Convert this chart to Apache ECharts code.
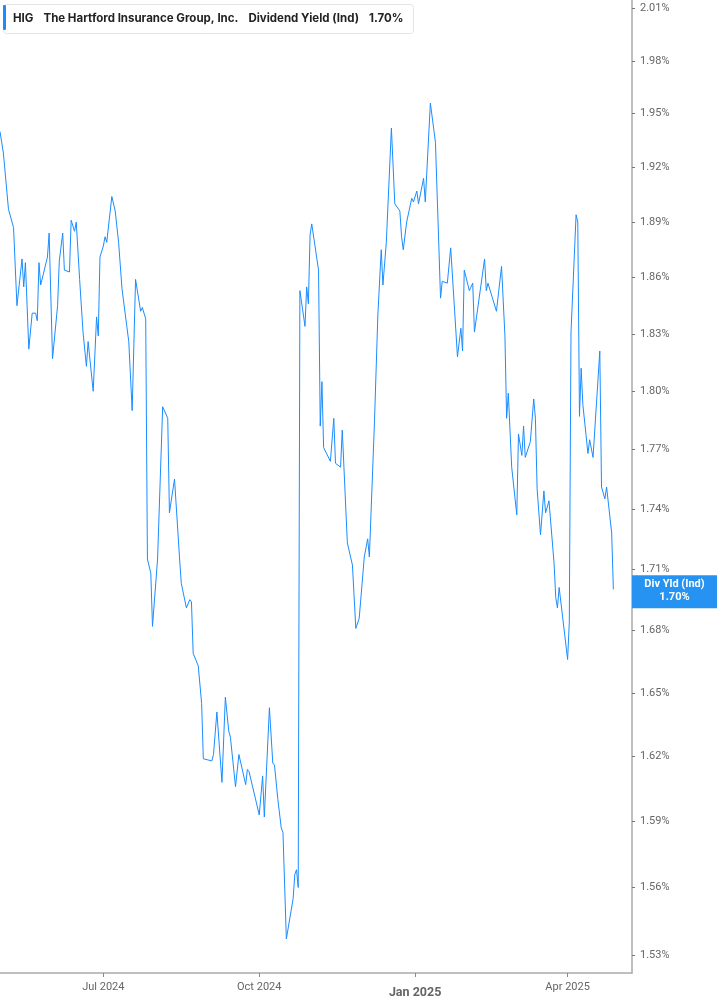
<!DOCTYPE html>
<html>
<head>
<meta charset="utf-8">
<script src="https://cdn.jsdelivr.net/npm/echarts@6/dist/echarts.min.js"></script>
<style>html,body{margin:0;padding:0;background:#fff}#c{width:717px;height:1005px}</style>
</head>
<body>
<div id="c"></div>
<script>
const dates = [
'2024-05-01','2024-05-03','2024-05-06','2024-05-09','2024-05-11','2024-05-14','2024-05-15','2024-05-16','2024-05-18','2024-05-20','2024-05-22','2024-05-23','2024-05-24','2024-05-25','2024-05-29','2024-05-30',
'2024-06-01','2024-06-04','2024-06-05','2024-06-07','2024-06-08','2024-06-11','2024-06-12','2024-06-13','2024-06-14','2024-06-15','2024-06-17','2024-06-19','2024-06-21','2024-06-22','2024-06-25','2024-06-27','2024-06-28','2024-06-29',
'2024-07-01','2024-07-02','2024-07-03','2024-07-06','2024-07-08','2024-07-10','2024-07-12','2024-07-16','2024-07-18','2024-07-19','2024-07-20','2024-07-23','2024-07-24','2024-07-25','2024-07-26','2024-07-27','2024-07-29','2024-07-30',
'2024-08-02','2024-08-05','2024-08-08','2024-08-09','2024-08-12','2024-08-15','2024-08-16','2024-08-19','2024-08-21','2024-08-22','2024-08-23','2024-08-26','2024-08-28','2024-08-29',
'2024-09-03','2024-09-04','2024-09-06','2024-09-09','2024-09-10','2024-09-11','2024-09-13','2024-09-14','2024-09-17','2024-09-19','2024-09-23','2024-09-24','2024-09-25','2024-09-26',
'2024-10-01','2024-10-03','2024-10-04','2024-10-07','2024-10-09','2024-10-10','2024-10-12','2024-10-14','2024-10-15','2024-10-17','2024-10-21','2024-10-22','2024-10-23','2024-10-24','2024-10-25','2024-10-28','2024-10-29','2024-10-30','2024-10-31',
'2024-11-01','2024-11-05','2024-11-06','2024-11-07','2024-11-08','2024-11-12','2024-11-14','2024-11-15','2024-11-18','2024-11-19','2024-11-22','2024-11-25','2024-11-27','2024-11-29',
'2024-12-02','2024-12-04','2024-12-05','2024-12-08','2024-12-10','2024-12-11','2024-12-12','2024-12-13','2024-12-15','2024-12-18','2024-12-19','2024-12-20','2024-12-23','2024-12-24','2024-12-25','2024-12-27','2024-12-30','2024-12-31',
'2025-01-02','2025-01-03','2025-01-06','2025-01-07','2025-01-10','2025-01-13','2025-01-16','2025-01-17','2025-01-20','2025-01-22','2025-01-26','2025-01-28','2025-01-29','2025-01-30',
'2025-02-02','2025-02-04','2025-02-05','2025-02-06','2025-02-11','2025-02-12','2025-02-13','2025-02-18','2025-02-21','2025-02-23','2025-02-24','2025-02-25','2025-02-27',
'2025-03-02','2025-03-03','2025-03-05','2025-03-06','2025-03-07','2025-03-10','2025-03-12','2025-03-13','2025-03-14','2025-03-16','2025-03-18','2025-03-19','2025-03-20','2025-03-21','2025-03-24','2025-03-25','2025-03-26','2025-03-27',
'2025-04-01','2025-04-02','2025-04-03','2025-04-06','2025-04-07','2025-04-08','2025-04-09','2025-04-10','2025-04-13','2025-04-14','2025-04-15','2025-04-16','2025-04-20','2025-04-21','2025-04-23','2025-04-24','2025-04-27','2025-04-28'
];
const yieldValues = [
1.940,1.928,1.897,1.887,1.845,1.870,1.855,1.868,1.822,1.841,1.841,1.837,1.868,1.856,1.871,1.884,
1.817,1.845,1.869,1.884,1.864,1.863,1.891,1.891,1.885,1.890,1.859,1.831,1.813,1.826,1.800,1.839,1.829,1.871,
1.877,1.882,1.879,1.904,1.896,1.879,1.854,1.826,1.790,1.789,1.859,1.842,1.844,1.844,1.838,1.715,1.708,1.682,
1.715,1.792,1.786,1.738,1.755,1.715,1.703,1.691,1.695,1.694,1.669,1.663,1.645,1.619,
1.618,1.621,1.641,1.608,1.608,1.648,1.632,1.629,1.606,1.621,1.607,1.614,1.613,1.613,
1.593,1.611,1.592,1.643,1.617,1.616,1.600,1.587,1.585,1.537,1.555,1.566,1.568,1.560,1.853,1.834,1.855,1.846,1.883,
1.889,1.864,1.782,1.805,1.771,1.764,1.786,1.763,1.761,1.780,1.723,1.712,1.681,1.686,
1.716,1.725,1.716,1.784,1.840,1.840,1.875,1.856,1.879,1.942,1.942,1.900,1.896,1.882,1.875,1.890,1.903,1.901,
1.907,1.900,1.914,1.901,1.956,1.934,1.849,1.858,1.857,1.876,1.818,1.833,1.821,1.864,
1.853,1.857,1.831,1.832,1.870,1.853,1.857,1.842,1.866,1.829,1.786,1.799,1.761,
1.737,1.778,1.767,1.782,1.766,1.774,1.796,1.786,1.750,1.727,1.749,1.738,1.739,1.744,1.713,1.696,1.691,1.701,
1.666,1.684,1.831,1.894,1.890,1.787,1.812,1.793,1.768,1.775,1.775,1.766,1.821,1.751,1.745,1.751,1.728,1.700
];
const yTicks = [1.53,1.56,1.59,1.62,1.65,1.68,1.71,1.74,1.77,1.80,1.83,1.86,1.89,1.92,1.95,1.98,2.01];
const xTicks = ['2024-07-01','2024-10-01','2025-01-01','2025-04-01'];
const xTickLabels = ['Jul 2024','Oct 2024','Jan 2025','Apr 2025'];
const lastValue = 1.70;
const yMin = 1.522, yMax = 2.015;
const xMin = '2024-05-01', xMax = '2025-05-09';

const ts = s => Date.parse(s + 'T00:00:00Z');
const BLUE = '#1a8cff';

const chart = echarts.init(document.getElementById('c'));
chart.setOption({
  animation: false,
  title: {
    left: 3, top: 4,
    text: '{b|HIG}  {b|The Hartford Insurance Group, Inc.}  {n|Dividend Yield (Ind)}  {b|1.70%}',
    backgroundColor: '#fff',
    borderColor: '#e4e4e4', borderWidth: 1, borderRadius: 3,
    padding: [6, 10, 6, 10],
    textStyle: {
      rich: {
        b: { fontFamily: 'Inter', fontSize: 11.5, fontWeight: 'bold', color: '#222' },
        n: { fontFamily: 'Inter', fontSize: 11.5, color: '#222' }
      }
    }
  },
  graphic: [{ type: 'rect', left: 3, top: 5, shape: { width: 3, height: 25, r: 1 }, style: { fill: BLUE }, z: 100 }],
  grid: { left: 0, right: 85, top: 0, bottom: 32 },
  xAxis: {
    type: 'value',
    min: ts(xMin), max: ts(xMax),
    splitLine: { show: false },
    axisLine: { lineStyle: { color: '#aaa', width: 1.5 } },
    axisTick: { show: true, length: 4, lineStyle: { color: '#888' }, customValues: xTicks.map(ts) },
    axisLabel: {
      customValues: xTicks.map(ts),
      margin: 9,
      color: '#666', fontFamily: 'Roboto', fontSize: 11,
      formatter: function (v) {
        let best = 0, bd = Infinity;
        xTicks.forEach((t, i) => { const d = Math.abs(ts(t) - v); if (d < bd) { bd = d; best = i; } });
        const s = xTickLabels[best];
        return s.indexOf('Jan') === 0 ? '{j|' + s + '}' : s;
      },
      rich: { j: { fontFamily: 'Roboto', fontSize: 12.5, fontWeight: 'bold', color: '#666', padding: [4, 0, 0, 0] } }
    }
  },
  yAxis: {
    type: 'value',
    position: 'right',
    min: Math.log(yMin), max: Math.log(yMax),
    splitLine: { show: false },
    axisLine: { show: true, lineStyle: { color: '#aaa', width: 1.5 } },
    axisTick: { show: true, length: 3, lineStyle: { color: '#777' }, customValues: yTicks.map(Math.log) },
    axisLabel: {
      customValues: yTicks.map(Math.log),
      margin: 8,
      color: '#666', fontFamily: 'Roboto', fontSize: 11,
      formatter: v => Math.exp(v).toFixed(2) + '%'
    }
  },
  series: [{
    type: 'line',
    showSymbol: false,
    data: dates.map((d, i) => [ts(d), Math.log(yieldValues[i])]),
    lineStyle: { color: BLUE, width: 1 },
    itemStyle: { color: BLUE },
    markLine: {
      silent: true, symbol: ['none', 'none'],
      lineStyle: { color: 'rgba(0,0,0,0)', width: 0, type: 'solid' },
      data: [{ yAxis: Math.log(lastValue) }],
      label: {
        show: true, position: 'end', distance: 0,
        formatter: '{a|Div Yld (Ind)}\n{a|' + lastValue.toFixed(2) + '%}',
        backgroundColor: '#2693f3',
        padding: [3, 0, 4, 0],
        opacity: 1,
        rich: { a: { width: 85, align: 'center', color: '#fff', fontFamily: 'Roboto', fontSize: 11, fontWeight: 'bold', lineHeight: 13 } }
      }
    }
  }]
});
</script>
</body>
</html>
